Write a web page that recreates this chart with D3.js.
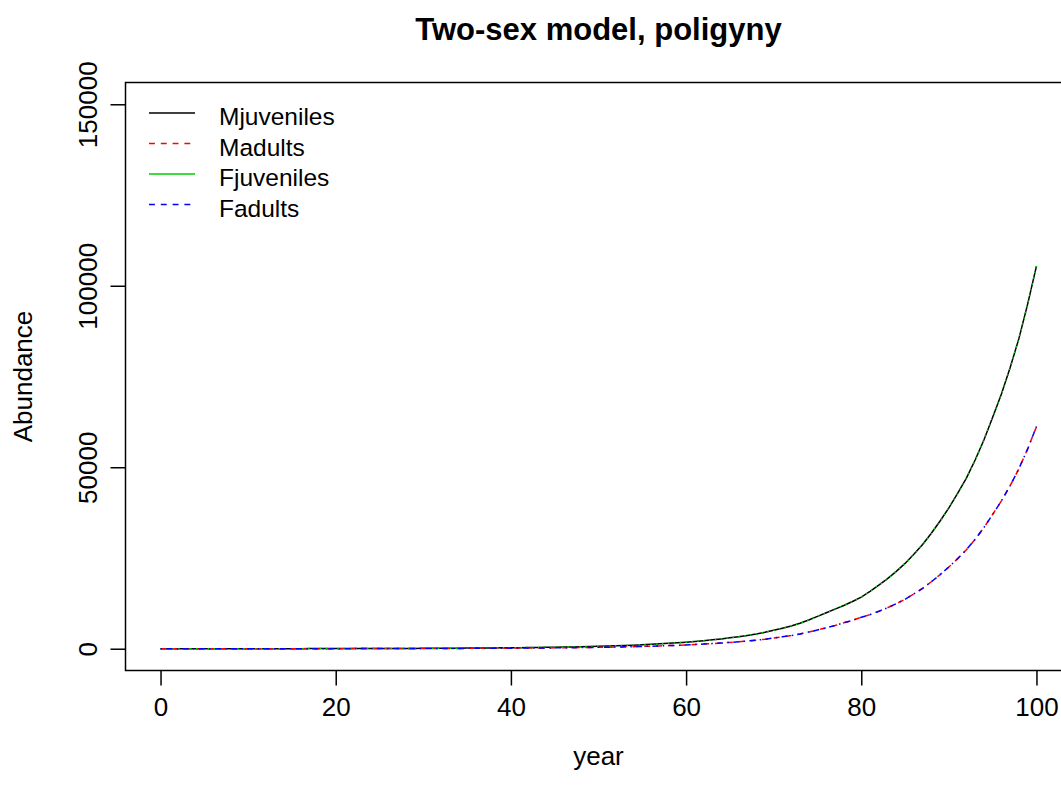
<!DOCTYPE html>
<html>
<head>
<meta charset="utf-8">
<script src="https://cdn.jsdelivr.net/npm/d3@7"></script>
<style>
body { margin: 0; background: #fff; }
text { font-family: "Liberation Sans", Arial, sans-serif; }
</style>
</head>
<body>
<div id="chart"></div>
<script>
let svgWidth = 1061;
let svgHeight = 794;

// plot box (R style, xlim/ylim extended by 4%)
let box = { left: 125.5, top: 82.5, right: 1071.5, bottom: 670.5 };

// years 0..100
let years = d3.range(0, 101);

let mJuveniles = [5,5,6,7,8,8,9,10,11,12,
14,15,17,19,21,23,25,28,31,34,
38,42,46,51,56,62,69,76,84,93,
103,113,125,138,153,169,187,206,228,252,
268,290,318,345,378,410,452,498,546,602,
668,735,812,898,990,1095,1210,1338,1475,1630,
1805,2010,2220,2450,2710,3000,3320,3660,4050,4520,
5100,5650,6250,7000,7900,8900,9900,10900,11900,13000,
14200,15800,17500,19300,21300,23500,26000,28700,31800,35200,
38800,42800,47000,52000,57500,63800,70200,77500,85500,95000,
105400];

let mAdults = [5,4,4,4,5,5,5,6,6,7,
8,9,10,11,12,13,15,16,18,20,
22,24,27,30,33,36,40,44,49,54,
60,66,72,80,89,98,108,120,132,146,
156,168,184,200,219,238,262,289,317,349,
387,426,471,521,574,635,702,776,856,945,
1047,1166,1288,1421,1572,1740,1926,2123,2349,2593,
2958,3277,3625,4060,4582,5162,5742,6380,7134,7830,
8650,9400,10300,11300,12400,13630,15080,16646,18444,20416,
22504,24824,27260,30160,33350,37004,40716,44950,49590,55100,
61132];

let fJuveniles = [5,6,6,7,7,8,9,10,11,13,
14,15,16,19,21,23,26,28,31,35,
38,41,46,51,57,62,68,76,85,93,
102,114,125,139,152,170,186,207,227,253,
269,289,319,344,379,409,453,497,547,601,
670,733,814,896,992,1093,1213,1335,1478,1627,
1808,2006,2224,2446,2715,2995,3326,3654,4058,4512,
5110,5640,6262,6988,7915,8885,9918,10880,11925,12980,
14225,15775,17530,19270,21335,23465,26040,28660,31845,35150,
38860,42740,47070,51930,57580,63720,70300,77400,85620,94880,
105520];

let fAdults = [5,5,4,4,4,5,6,6,7,7,
8,8,10,11,12,14,15,17,18,20,
23,24,27,29,33,37,40,45,48,55,
59,66,73,79,89,97,109,119,133,145,
157,167,185,199,220,237,263,288,318,348,
388,425,472,520,575,634,703,775,858,943,
1049,1164,1290,1419,1575,1737,1929,2120,2352,2590,
2962,3273,3630,4055,4588,5157,5748,6374,7141,7824,
8660,9395,10310,11290,12410,13620,15095,16630,18460,20400,
22525,24805,27285,30135,33380,36975,40750,44910,49640,55050,
61200];

let seriesNames = ["Mjuveniles", "Madults", "Fjuveniles", "Fadults"];
let seriesValues = [mJuveniles, mAdults, fJuveniles, fAdults];
let seriesColors = ["#000000", "#FF0000", "#00CD00", "#0000FF"];
// plotted with matplot's line types 1:4, the legend shows 1,2,1,2
let plotDash = [null, "5.9,5.9", "1.5,4.4", "1.5,4.4,5.9,4.4"];
let legendDash = [null, "5.9,5.9", null, "5.9,5.9"];

let xTicks = [0, 20, 40, 60, 80, 100];
let yTicks = [0, 50000, 100000, 150000];

let svg = d3.select("#chart")
  .append("svg")
  .attr("width", svgWidth)
  .attr("height", svgHeight);

let xScale = d3.scaleLinear()
  .domain([-4, 104])
  .range([box.left, box.right]);

let yScale = d3.scaleLinear()
  .domain([-6000, 156000])
  .range([box.bottom, box.top]);

// lines
let line = d3.line()
  .x((d, i) => xScale(years[i]))
  .y(d => yScale(d));

seriesValues.forEach(function(vals, k) {
  svg.append("path")
    .datum(vals)
    .attr("fill", "none")
    .attr("stroke", seriesColors[k])
    .attr("stroke-width", 1.5)
    .attr("stroke-dasharray", plotDash[k])
    .attr("d", line);
});

// x axis
let xAxis = svg.append("g")
  .attr("transform", `translate(0, ${box.bottom})`)
  .call(d3.axisBottom(xScale).tickValues(xTicks).tickSize(15).tickPadding(12));

xAxis.select(".domain").remove();
xAxis.selectAll("line").attr("stroke-width", 1.5);
xAxis.selectAll("text")
  .attr("font-size", 26)
  .attr("font-family", "Liberation Sans, Arial, sans-serif")
  .attr("fill", "#000");

// y axis, labels parallel to the axis
let yAxis = svg.append("g")
  .attr("transform", `translate(${box.left}, 0)`)
  .call(d3.axisLeft(yScale).tickValues(yTicks).tickSize(15).tickFormat(d3.format("d")));

yAxis.select(".domain").remove();
yAxis.selectAll("line").attr("stroke-width", 1.5);
yAxis.selectAll("text")
  .attr("x", null)
  .attr("dy", null)
  .attr("text-anchor", "middle")
  .attr("transform", "translate(-29, 0) rotate(-90)")
  .attr("font-size", 26)
  .attr("font-family", "Liberation Sans, Arial, sans-serif")
  .attr("fill", "#000");

// box
svg.append("rect")
  .attr("x", box.left)
  .attr("y", box.top)
  .attr("width", box.right - box.left)
  .attr("height", box.bottom - box.top)
  .attr("fill", "none")
  .attr("stroke", "#000")
  .attr("stroke-width", 1.5);

// title and axis labels
let midX = (box.left + box.right) / 2;

svg.append("text")
  .attr("x", midX)
  .attr("y", 40)
  .attr("text-anchor", "middle")
  .attr("font-size", 31)
  .attr("font-weight", "bold")
  .text("Two-sex model, poligyny");

svg.append("text")
  .attr("x", midX)
  .attr("y", 765)
  .attr("text-anchor", "middle")
  .attr("font-size", 26)
  .text("year");

svg.append("text")
  .attr("transform", `translate(32, ${(box.top + box.bottom) / 2}) rotate(-90)`)
  .attr("text-anchor", "middle")
  .attr("font-size", 26)
  .text("Abundance");

// legend
let legend = svg.append("g");

seriesNames.forEach(function(name, k) {
  let base = 125 + k * 30.5;
  legend.append("line")
    .attr("x1", 149)
    .attr("x2", 195)
    .attr("y1", base - 12)
    .attr("y2", base - 12)
    .attr("stroke", seriesColors[k])
    .attr("stroke-width", 1.5)
    .attr("stroke-dasharray", legendDash[k]);
  legend.append("text")
    .attr("x", 219)
    .attr("y", base)
    .attr("font-size", 24.5)
    .text(name);
});
</script>
</body>
</html>
